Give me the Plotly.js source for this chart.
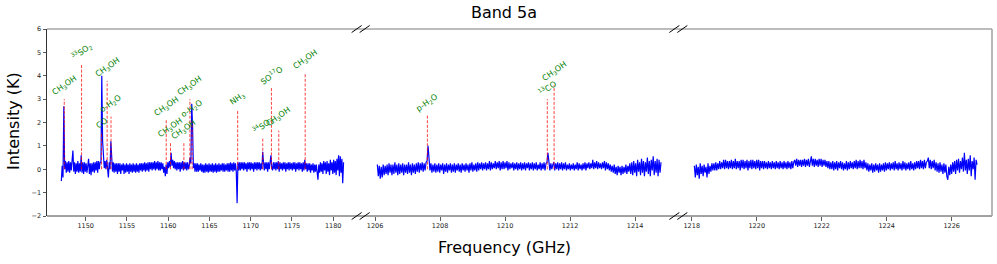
<!DOCTYPE html>
<html><head><meta charset="utf-8">
<script src="https://cdn.plot.ly/plotly-3.0.1.min.js"></script>
<style>html,body{margin:0;padding:0;background:#fff}#chart{width:997px;height:264px}</style>
</head><body><div id="chart"></div>
<script>
// ---- spectrum, panel 1 (channel grid: start + step * index) ----
const spec1Start = 1147.05, spec1Step = 0.1;
const spec1 = [
-0.50,0.15,-0.35,2.70,0.00,0.35,-0.15,0.30,-0.10,0.35,
-0.15,0.30,-0.05,0.35,0.80,-0.10,0.30,-0.20,0.25,-0.10,
0.35,-0.15,0.25,-0.10,0.60,-0.15,0.30,-0.20,0.30,-0.10,
0.25,-0.15,0.30,0.45,-0.20,0.25,-0.25,0.25,-0.10,0.30,
-0.15,0.30,-0.05,0.35,-0.15,0.35,0.00,0.30,0.30,4.00,
1.20,0.40,0.05,0.35,0.00,0.40,0.10,-0.35,0.30,0.00,
1.20,0.30,-0.10,0.30,-0.15,0.25,-0.10,0.25,-0.20,0.25,
-0.10,0.25,-0.20,0.20,-0.05,0.25,-0.20,0.20,-0.15,0.25,
-0.10,0.20,-0.20,0.25,-0.10,0.20,-0.15,0.25,-0.10,0.20,
-0.15,0.25,-0.10,0.20,-0.15,0.25,-0.05,0.25,-0.10,0.25,
-0.05,0.30,-0.10,0.25,-0.05,0.30,-0.10,0.30,0.00,0.30,
-0.05,0.30,0.00,0.35,-0.05,0.30,0.00,0.35,-0.05,0.30,
-0.05,0.30,0.00,0.25,-0.15,0.10,-0.30,0.20,-0.20,0.30,
0.05,0.35,0.10,0.70,0.15,0.40,0.05,0.35,0.00,0.30,
-0.05,0.30,0.00,0.30,-0.10,0.30,0.00,0.35,-0.05,0.30,
0.00,0.30,-0.05,0.30,0.00,0.15,0.50,0.25,2.80,1.90,
0.05,0.25,-0.10,0.25,-0.10,0.25,-0.10,0.20,-0.05,0.25,
-0.10,0.20,-0.15,0.20,-0.15,0.25,-0.10,0.20,-0.15,0.25,
-0.10,0.20,-0.10,0.25,-0.15,0.20,-0.10,0.25,-0.15,0.20,
-0.10,0.25,-0.10,0.20,-0.05,0.25,-0.10,0.25,-0.10,0.20,
-0.05,0.25,-0.10,0.25,-0.10,0.30,-0.05,0.25,-0.10,0.30,
-0.05,0.25,-0.10,-1.45,0.30,-0.05,0.30,-0.05,0.30,0.00,
0.30,-0.05,0.30,0.00,0.25,-0.10,0.30,0.00,0.30,-0.05,
0.30,0.00,0.25,-0.10,0.30,0.00,0.30,-0.05,0.30,0.00,
0.30,-0.05,0.25,0.00,0.75,0.30,-0.05,0.30,0.00,0.30,
-0.10,0.30,0.00,0.30,0.60,0.05,-0.05,0.30,0.00,0.30,
-0.05,0.30,0.00,0.35,-0.10,0.30,0.00,0.25,-0.05,0.30,
0.00,0.30,-0.10,0.25,0.00,0.30,-0.05,0.30,0.00,0.25,
-0.05,0.30,0.00,0.30,-0.10,0.25,0.00,0.30,-0.05,0.30,
0.00,0.25,-0.10,0.30,-0.05,0.40,0.00,0.25,-0.10,0.25,
-0.05,0.25,-0.15,0.20,-0.05,0.25,-0.15,0.20,-0.10,0.20,
-0.20,-0.45,0.20,-0.15,0.30,-0.10,0.25,-0.20,0.35,-0.05,
0.30,-0.20,0.35,-0.10,0.25,-0.25,0.40,-0.05,0.30,-0.20,
0.40,-0.15,0.35,-0.25,0.45,-0.05,0.60,-0.30,0.55,-0.15,
0.45,-0.60,0.30
];

// ---- spectrum, panel 2 ----
const spec2Start = 1206.07, spec2Step = 0.03;
const spec2 = [
0.20,-0.30,0.15,-0.40,0.10,-0.35,0.20,-0.25,0.15,-0.20,
0.20,-0.25,0.25,-0.15,0.20,-0.25,0.20,-0.20,0.30,-0.15,
0.20,-0.25,0.25,-0.20,0.20,-0.15,0.25,-0.25,0.20,-0.15,
0.20,-0.20,0.30,-0.15,0.20,-0.25,0.25,-0.15,0.20,-0.20,
0.25,-0.10,0.30,-0.15,0.25,-0.05,0.30,-0.10,0.25,-0.05,
0.30,0.35,1.00,0.30,-0.05,0.25,-0.15,0.20,-0.10,0.25,
-0.15,0.20,-0.10,0.25,-0.15,0.20,-0.05,0.25,-0.20,0.20,
-0.10,0.25,-0.15,0.20,-0.05,0.25,-0.15,0.20,-0.10,0.25,
-0.15,0.20,-0.05,0.25,-0.10,0.20,-0.15,0.25,-0.05,0.20,
-0.10,0.25,-0.05,0.20,-0.15,0.25,-0.05,0.30,-0.10,0.20,
-0.05,0.25,-0.10,0.30,-0.05,0.25,0.00,0.30,-0.05,0.25,
0.00,0.30,-0.05,0.25,0.00,0.35,-0.05,0.30,0.00,0.25,
0.05,0.35,0.00,0.30,0.05,0.35,-0.05,0.30,0.00,0.35,
0.00,0.30,0.05,0.35,-0.05,0.30,0.00,0.25,0.05,0.30,
-0.05,0.25,0.00,0.30,-0.05,0.25,0.00,0.30,-0.05,0.25,
0.00,0.30,-0.05,0.25,0.05,0.30,-0.05,0.25,0.00,0.30,
-0.05,0.25,0.00,0.30,-0.05,0.20,0.00,0.30,-0.05,0.25,
0.00,0.30,-0.05,0.25,0.30,0.70,0.20,-0.05,0.25,0.00,
0.20,0.30,-0.05,0.25,0.00,0.30,-0.05,0.25,0.00,0.30,
-0.05,0.25,0.00,0.30,-0.05,0.20,0.00,0.25,-0.05,0.20,
0.00,0.25,-0.05,0.20,0.00,0.30,-0.05,0.25,0.00,0.20,
-0.05,0.25,0.00,0.30,-0.05,0.25,0.05,0.30,0.00,0.25,
0.05,0.40,0.00,0.30,0.05,0.35,0.00,0.30,0.05,0.25,
0.00,0.30,0.05,0.35,-0.05,0.30,0.00,0.25,-0.05,0.20,
-0.10,0.15,-0.15,0.20,-0.20,0.10,-0.25,0.15,-0.15,0.10,
-0.25,0.15,-0.20,0.10,-0.15,0.20,-0.20,0.15,-0.10,0.25,
-0.20,0.30,-0.25,0.35,-0.15,0.25,-0.30,0.40,-0.10,0.30,
-0.25,0.45,-0.15,0.35,-0.30,0.30,-0.10,0.50,-0.20,0.35,
-0.30,0.40,-0.05,0.55,-0.25,0.35,-0.15,0.45,-0.30,0.40,
-0.15,0.30
];

// ---- spectrum, panel 3 ----
const spec3Start = 1218.08, spec3Step = 0.03;
const spec3 = [
0.15,-0.35,0.20,-0.25,0.10,-0.40,0.25,-0.20,0.15,-0.30,
0.20,-0.15,0.10,-0.35,0.25,-0.20,0.15,-0.10,0.25,-0.05,
0.25,-0.05,0.30,-0.05,0.25,0.00,0.35,0.00,0.30,0.05,
0.40,0.00,0.40,0.05,0.35,0.00,0.35,0.05,0.40,0.00,
0.35,0.05,0.45,0.00,0.35,0.05,0.35,-0.05,0.40,0.05,
0.40,0.00,0.35,0.05,0.40,-0.05,0.35,0.05,0.40,0.00,
0.40,0.05,0.35,0.00,0.40,0.05,0.40,-0.05,0.35,0.05,
0.35,0.00,0.35,0.05,0.30,0.00,0.35,0.05,0.30,0.00,
0.35,0.05,0.30,0.00,0.35,0.05,0.30,0.00,0.35,0.05,
0.30,0.00,0.35,0.05,0.30,0.00,0.35,0.05,0.30,0.00,
0.35,0.05,0.30,0.40,0.15,0.45,0.10,0.40,0.15,0.40,
0.10,0.40,0.15,0.45,0.10,0.40,0.15,0.45,0.10,0.45,
0.55,0.15,0.45,0.10,0.45,0.15,0.40,0.10,0.45,0.15,
0.45,0.10,0.40,0.15,0.40,0.10,0.35,0.05,0.35,0.00,
0.30,0.00,0.35,-0.05,0.30,0.00,0.35,-0.05,0.30,0.05,
0.35,0.00,0.30,-0.05,0.25,0.00,0.35,-0.05,0.30,0.00,
0.35,0.05,0.30,0.00,0.35,0.05,0.40,0.00,0.35,0.05,
0.40,0.05,0.35,0.00,0.40,0.05,0.30,-0.05,0.25,-0.10,
0.20,-0.05,0.25,-0.15,0.20,-0.10,0.25,-0.05,0.20,-0.15,
0.25,-0.10,0.20,-0.05,0.25,-0.10,0.30,-0.05,0.25,0.00,
0.30,-0.05,0.25,0.00,0.30,-0.05,0.35,0.00,0.25,-0.05,
0.30,0.00,0.25,-0.05,0.35,0.00,0.30,-0.05,0.25,0.00,
0.30,-0.05,0.35,0.00,0.25,-0.05,0.30,0.00,0.35,0.05,
0.35,0.00,0.40,0.05,0.35,0.00,0.40,0.05,0.30,0.35,
0.50,0.05,0.40,0.00,0.35,0.05,0.40,-0.05,0.30,-0.10,
0.25,-0.15,0.30,-0.10,0.20,-0.20,0.25,-0.15,0.20,-0.30,
-0.45,0.10,-0.25,0.20,-0.20,0.30,-0.10,0.35,-0.20,0.40,
-0.05,0.45,-0.15,0.35,0.00,0.50,-0.10,0.70,-0.05,0.40,
-0.20,0.45,-0.05,0.60,-0.30,0.35,0.00,0.50,-0.45,0.40,
0.20
];

// ---- line identifications ----
const lineFreq   = [1147.40, 1149.50, 1151.92, 1152.60, 1153.07, 1159.76, 1160.28, 1161.90, 1162.63, 1162.90, 1168.42, 1171.46, 1172.51, 1173.40, 1176.60, 1207.61, 1211.30, 1211.51];
const lineHeight = [3.00, 4.50, 1.60, 3.78, 2.25, 2.10, 1.18, 1.12, 3.00, 2.05, 2.56, 1.35, 3.49, 1.65, 4.10, 2.32, 3.00, 3.60];
const lineLabel  = ['CH<sub>3</sub>OH', '<sup>33</sup>SO<sub>2</sub>', 'CO', 'CH<sub>3</sub>OH', 'o-H<sub>2</sub>O',
  'CH<sub>3</sub>OH', 'CH<sub>3</sub>OH', 'CH<sub>3</sub>OH', 'CH<sub>3</sub>OH', 'o-H<sub>2</sub>O',
  'NH<sub>3</sub>', '<sup>34</sup>SO<sub>2</sub>', 'SO<sup>17</sup>O', 'CH<sub>3</sub>OH', 'CH<sub>3</sub>OH',
  'p-H<sub>2</sub>O', '<sup>13</sup>CO', 'CH<sub>3</sub>OH'];
const linePanel  = [1,1,1,1,1,1,1,1,1,1,1,1,1,1,1,2,2,2];

// ---- axes ----
const ticks1 = [1150, 1155, 1160, 1165, 1170, 1175, 1180];
const ticks2 = [1206, 1208, 1210, 1212, 1214];
const ticks3 = [1218, 1220, 1222, 1224, 1226];
const yTicks = [-2, -1, 0, 1, 2, 3, 4, 5, 6];

const FONT = 'DejaVu Sans, Liberation Sans, sans-serif';
const axisIds = ['x', 'x2', 'x3'];

function specTrace(start, step, vals, axis) {
  const xs = vals.map((v, i) => start + step * i);
  return {type: 'scatter', mode: 'lines', x: xs, y: vals, xaxis: axis, yaxis: 'y',
    line: {color: '#0000ff', width: 1.2}, hoverinfo: 'skip', showlegend: false};
}

const traces = [
  specTrace(spec1Start, spec1Step, spec1, 'x'),
  specTrace(spec2Start, spec2Step, spec2, 'x2'),
  specTrace(spec3Start, spec3Step, spec3, 'x3')
];

// red dashed markers per panel
[1, 2].forEach(p => {
  const xs = [], ys = [];
  lineFreq.forEach((f, i) => {
    if (linePanel[i] !== p) return;
    xs.push(f, f, null); ys.push(0, lineHeight[i], null);
  });
  traces.push({type: 'scatter', mode: 'lines', x: xs, y: ys, xaxis: axisIds[p - 1], yaxis: 'y',
    line: {color: 'rgba(255,0,0,0.75)', width: 1, dash: '3px,1.6px'}, hoverinfo: 'skip', showlegend: false});
});

const annotations = lineFreq.map((f, i) => ({
  x: f, y: lineHeight[i], xref: axisIds[linePanel[i] - 1], yref: 'y',
  text: lineLabel[i], showarrow: false, textangle: -35,
  xanchor: 'center', yanchor: 'bottom', borderpad: 0,
  font: {family: FONT, size: 8, color: '#008000'}
}));

// plot area geometry in pixels (for layout only)
const W = 945, H = 187;
const panelW = (W - 16) / 3;
const e1 = panelW / W, e2 = (panelW + 8) / W, e3 = (2 * panelW + 8) / W, e4 = (2 * panelW + 16) / W;

annotations.push({
  text: 'Frequency (GHz)', xref: 'paper', yref: 'paper', x: (504 - 47) / W, y: (216 - 247) / H,
  xanchor: 'center', yanchor: 'middle', showarrow: false, font: {family: FONT, size: 16, color: '#000'}
});
annotations.push({
  text: 'Intensity (K)', xref: 'paper', yref: 'paper', x: (13 - 47) / W, y: (216 - 121) / H,
  xanchor: 'center', yanchor: 'middle', showarrow: false, textangle: -90,
  font: {family: FONT, size: 16, color: '#000'}
});

const shapes = [
  {type: 'line', xref: 'paper', yref: 'paper', x0: 0, x1: 1, y0: 0, y1: 0, line: {color: '#444', width: 1}},
  {type: 'line', xref: 'paper', yref: 'paper', x0: 0, x1: 1, y0: 1, y1: 1, line: {color: '#a6a6a6', width: 1.6}},
  {type: 'line', xref: 'paper', yref: 'paper', x0: 1, x1: 1, y0: 0, y1: 1, line: {color: '#a6a6a6', width: 1.6}}
];
[e1, e2, e3, e4].forEach(ex => {
  [0, 1].forEach(yl => {
    shapes.push({type: 'line', xref: 'paper', yref: 'paper',
      x0: ex - 5 / W, x1: ex + 5 / W, y0: yl - 3.5 / H, y1: yl + 3.5 / H,
      line: {color: '#000', width: 1}});
  });
});

const xBase = {showgrid: false, zeroline: false, showline: false, ticks: 'outside', ticklen: 3.5,
  tickwidth: 0.8, tickcolor: '#333', tickfont: {family: FONT, size: 6.5, color: '#222'}, anchor: 'y', tickmode: 'array'};

const layout = {
  width: 997, height: 264, autosize: false,
  margin: {l: 47, r: 5, t: 29, b: 48, pad: 0},
  paper_bgcolor: '#fff', plot_bgcolor: '#fff',
  font: {family: FONT},
  title: {text: 'Band 5a', xref: 'container', yref: 'container', x: 504 / 997, y: 1 - 12 / 264,
    xanchor: 'center', yanchor: 'middle', font: {family: FONT, size: 16, color: '#000'}},
  xaxis: Object.assign({}, xBase, {domain: [0, e1], range: [1145.31, 1182.84], tickvals: ticks1}),
  xaxis2: Object.assign({}, xBase, {domain: [e2, e3], range: [1205.68, 1215.21], tickvals: ticks2}),
  xaxis3: Object.assign({}, xBase, {domain: [e4, 1], range: [1217.71, 1227.24], tickvals: ticks3}),
  yaxis: {range: [-2, 6], tickmode: 'array', tickvals: yTicks, showgrid: false, zeroline: false,
    showline: true, linecolor: '#333', linewidth: 1, ticks: 'outside', ticklen: 3.5, tickwidth: 0.8,
    tickcolor: '#333', tickfont: {family: FONT, size: 6.5, color: '#222'}, anchor: 'x'},
  annotations: annotations,
  shapes: shapes,
  showlegend: false
};

Plotly.newPlot('chart', traces, layout, {staticPlot: true, displayModeBar: false});
</script>
</body></html>
